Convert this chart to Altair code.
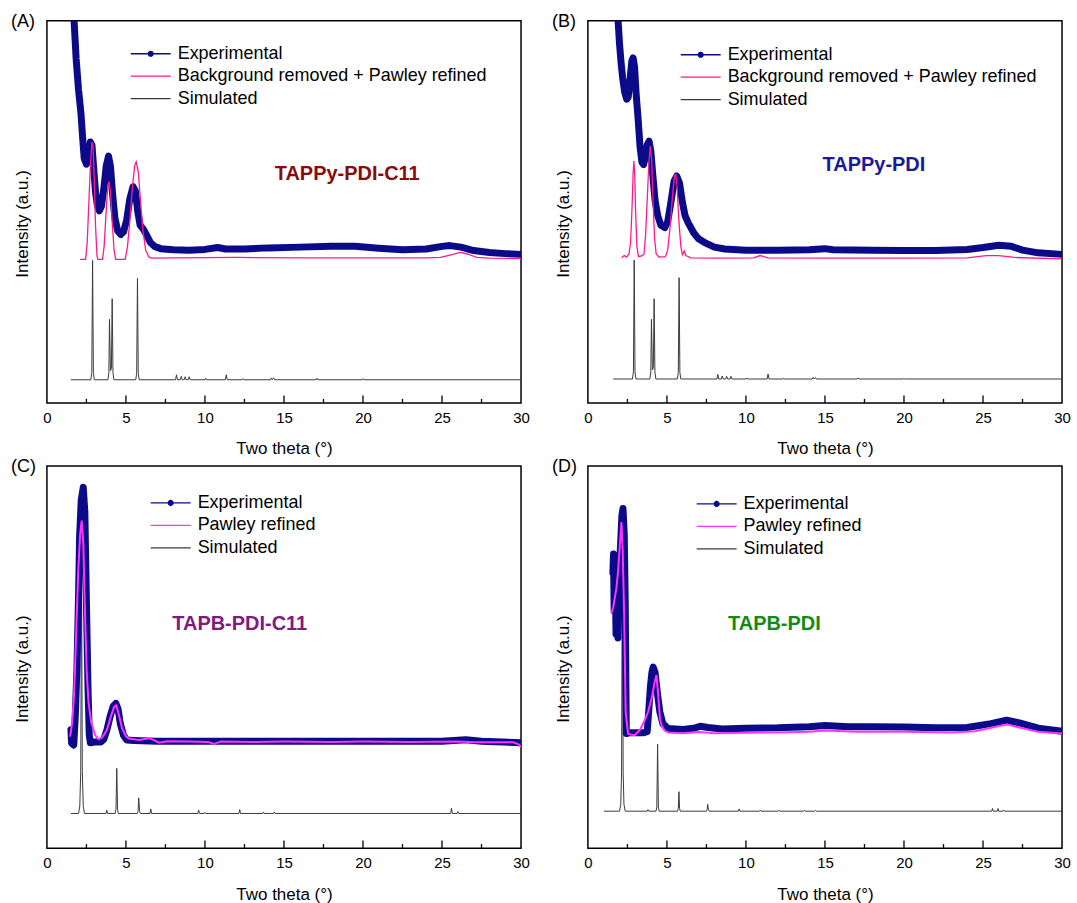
import altair as alt
import pandas as pd

# ---------------- Panel A : TAPPy-PDI-C11 ----------------
a_exp_x = [1.62, 1.72, 1.85, 2.0, 2.15, 2.25, 2.36, 2.5, 2.62, 2.75, 2.85, 2.95, 3.08, 3.2, 3.32, 3.45, 3.6, 3.75, 3.9, 4.02, 4.15, 4.3, 4.48, 4.67, 4.85, 5.05, 5.25, 5.45, 5.6, 5.75, 5.9, 6.1, 6.3, 6.55, 6.8, 7.2, 8.0, 9.0, 10.0, 10.8, 11.3, 12.5, 14.0, 16.0, 18.0, 19.5, 21.0, 22.5, 24.0, 25.0, 25.5, 26.2, 27.0, 28.0, 29.0, 30.0]
a_exp_y = [112, 100, 90, 82, 76, 70, 64, 62.5, 64.5, 68.3, 67.5, 62, 55, 51.5, 50.3, 51.5, 56, 62, 64.6, 62, 55, 48.5, 45, 44.1, 44.8, 48, 53.5, 56.6, 55.5, 50, 46.5, 45.5, 44, 42, 41, 40.4, 40.1, 40.0, 40.2, 40.7, 40.3, 40.3, 40.6, 40.8, 41.0, 41.0, 40.5, 40.1, 40.3, 41.0, 41.2, 40.8, 39.9, 39.4, 39.1, 38.9]
a_ref_x = [2.1, 2.45, 2.55, 2.65, 2.75, 2.85, 2.92, 3.0, 3.08, 3.17, 3.22, 3.52, 3.62, 3.72, 3.82, 3.92, 4.02, 4.12, 4.25, 4.35, 4.95, 5.1, 5.25, 5.4, 5.55, 5.65, 5.78, 5.92, 6.08, 6.25, 6.45, 6.6, 8.0, 12.0, 16.0, 20.0, 24.0, 24.9, 25.5, 26.15, 26.6, 27.2, 28.0, 30.0]
a_ref_y = [37.6, 37.6, 42, 52, 62, 68.3, 67, 58, 46, 38.5, 37.6, 37.6, 41, 48, 55, 58, 55.5, 48, 40, 37.6, 37.6, 41, 48, 56, 62, 63.1, 60.5, 53, 45, 40, 38.2, 37.9, 38.0, 38.1, 38.0, 38.0, 38.0, 38.1, 38.7, 39.4, 39.0, 38.1, 37.9, 37.8]
a_sim_x = [1.52, 2.78, 2.84, 2.89, 2.94, 3.0, 3.86, 3.92, 3.96, 4.02, 4.08, 4.13, 4.18, 4.24, 5.62, 5.68, 5.73, 5.78, 5.84, 8.14, 8.2, 8.26, 8.44, 8.5, 8.56, 8.69, 8.75, 8.81, 8.94, 9.0, 9.06, 10.0, 10.05, 10.1, 11.29, 11.35, 11.41, 12.35, 12.4, 12.45, 14.15, 14.2, 14.27, 14.35, 14.41, 17.05, 17.1, 17.15, 19.95, 20.0, 20.05, 30.0]
a_sim_y = [6.1, 6.1, 8.0, 37.3, 8.0, 6.1, 6.1, 8.0, 21.9, 8.5, 9.0, 27.3, 8.0, 6.1, 6.1, 7.8, 32.6, 7.8, 6.1, 6.1, 7.4, 6.1, 6.1, 7.0, 6.1, 6.1, 6.9, 6.1, 6.1, 6.9, 6.1, 6.1, 6.5, 6.1, 6.1, 7.4, 6.1, 6.1, 6.4, 6.1, 6.1, 6.6, 6.1, 6.6, 6.1, 6.1, 6.5, 6.1, 6.1, 6.4, 6.1, 6.1]

# ---------------- Panel B : TAPPy-PDI ----------------
b_exp_x = [1.82, 1.91, 2.0, 2.1, 2.2, 2.32, 2.45, 2.55, 2.65, 2.78, 2.86, 2.95, 3.05, 3.18, 3.3, 3.42, 3.52, 3.62, 3.75, 3.87, 3.98, 4.1, 4.25, 4.42, 4.62, 4.86, 5.05, 5.25, 5.45, 5.62, 5.8, 5.98, 6.15, 6.34, 6.7, 7.0, 7.39, 8.0, 8.65, 10.0, 12.0, 14.0, 15.0, 15.5, 18.0, 20.0, 22.0, 24.0, 25.0, 26.0, 26.8, 27.5, 28.5, 30.0]
b_exp_y = [112, 100, 94, 89, 85, 81.5, 79.5, 80, 84, 89.5, 90.3, 88, 81, 74.2, 67, 63, 62.4, 64, 67.5, 68.5, 66, 60, 53, 49, 46.5, 45.9, 47.5, 52.5, 58, 59.4, 57.5, 52.5, 49, 47.2, 44.5, 43, 42.0, 40.8, 40.3, 40.0, 40.0, 40.1, 40.4, 40.1, 40.0, 39.9, 39.9, 40.2, 40.7, 41.3, 41.0, 40.0, 39.3, 38.9]
b_ref_x = [2.13, 2.3, 2.45, 2.6, 2.7, 2.8, 2.86, 2.91, 2.96, 3.02, 3.1, 3.2, 3.4, 3.55, 3.65, 3.75, 3.85, 3.94, 4.03, 4.12, 4.22, 4.32, 4.5, 4.9, 5.05, 5.2, 5.35, 5.48, 5.56, 5.65, 5.75, 5.88, 5.98, 6.1, 6.2, 6.5, 8.0, 10.5, 10.9, 11.4, 15.0, 20.0, 24.0, 25.2, 26.0, 27.0, 30.0]
b_ref_y = [38.0, 38.6, 38.2, 39, 42, 52, 60, 63.3, 60, 50, 41, 38.3, 38.5, 39, 44, 53, 62, 67.2, 64, 53, 43, 39, 38.2, 38.3, 40, 46, 54, 59.5, 59.8, 56, 48, 41, 38.8, 39.8, 38.6, 38.0, 37.9, 38.0, 38.6, 38.0, 37.9, 37.9, 38.0, 38.6, 38.6, 38.1, 37.7]
b_sim_x = [1.6, 2.82, 2.88, 2.93, 2.98, 3.04, 3.92, 3.98, 4.02, 4.08, 4.14, 4.19, 4.24, 4.3, 5.66, 5.72, 5.77, 5.82, 5.88, 8.16, 8.22, 8.28, 8.44, 8.5, 8.56, 8.72, 8.78, 8.84, 8.99, 9.05, 9.11, 10.0, 10.05, 10.1, 11.34, 11.4, 11.46, 12.35, 12.4, 12.45, 14.2, 14.25, 14.32, 14.4, 14.46, 17.05, 17.1, 17.15, 19.95, 20.0, 20.05, 30.0]
b_sim_y = [6.3, 6.3, 8.2, 37.4, 8.2, 6.3, 6.3, 8.2, 21.9, 8.7, 9.2, 27.3, 8.2, 6.3, 6.3, 8.0, 32.8, 8.0, 6.3, 6.3, 7.5, 6.3, 6.3, 7.1, 6.3, 6.3, 7.0, 6.3, 6.3, 7.0, 6.3, 6.3, 6.6, 6.3, 6.3, 7.6, 6.3, 6.3, 6.5, 6.3, 6.3, 6.7, 6.3, 6.7, 6.3, 6.3, 6.6, 6.3, 6.3, 6.5, 6.3, 6.3]

# ---------------- Panel C : TAPB-PDI-C11 ----------------
c_exp_x = [1.52, 1.56, 1.7, 1.8, 1.9, 2.0, 2.07, 2.17, 2.3, 2.4, 2.5, 2.6, 2.68, 2.75, 3.0, 3.4, 3.6, 3.8, 4.0, 4.2, 4.36, 4.5, 4.65, 4.85, 5.05, 5.5, 7.0, 10.0, 15.0, 20.0, 25.0, 26.5, 27.5, 30.0]
c_exp_y = [31, 27.5, 27, 35, 47, 66, 81.8, 91, 94.4, 88, 64.4, 42, 29.6, 27.6, 27.8, 27.8, 28.5, 31, 34.5, 37.2, 37.9, 36.5, 32.5, 29.5, 28.3, 28.2, 28.0, 28.0, 28.0, 28.0, 28.0, 28.4, 28.0, 27.6]
c_ref_x = [1.47, 1.6, 1.7, 1.78, 1.88, 1.99, 2.1, 2.2, 2.3, 2.42, 2.52, 2.63, 2.8, 3.05, 3.26, 3.5, 3.8, 4.05, 4.25, 4.39, 4.55, 4.75, 5.0, 5.2, 5.8, 6.5, 6.8, 7.1, 7.6, 9.0, 10.2, 10.6, 11.0, 13.0, 15.0, 18.0, 20.0, 23.0, 26.0, 27.0, 29.5, 29.85, 30.0]
c_ref_y = [29.2, 33, 39, 47, 60, 73.1, 82, 85.7, 80, 60, 46, 38.3, 33, 29.6, 28.5, 29, 31, 34.5, 37, 37.4, 35, 31.5, 29.3, 28.7, 28.3, 28.8, 28.2, 27.6, 28.0, 27.9, 27.8, 27.3, 27.9, 27.8, 27.9, 27.8, 27.9, 27.8, 27.9, 27.7, 27.7, 27.2, 26.5]
c_sim_x = [1.52, 2.0, 2.08, 2.14, 2.19, 2.24, 2.3, 2.38, 3.74, 3.79, 3.84, 4.32, 4.37, 4.42, 4.47, 4.52, 5.72, 5.77, 5.81, 5.86, 5.91, 6.52, 6.57, 6.62, 9.55, 9.6, 9.65, 9.95, 10.0, 10.05, 12.15, 12.2, 12.25, 13.65, 13.7, 13.75, 14.35, 14.4, 14.45, 25.55, 25.6, 25.65, 25.95, 26.0, 26.05, 30.0]
c_sim_y = [9.1, 9.1, 11.0, 20.0, 75.0, 20.0, 11.0, 9.1, 9.1, 9.9, 9.1, 9.1, 10.2, 20.9, 10.2, 9.1, 9.1, 9.8, 13.2, 9.8, 9.1, 9.1, 10.3, 9.1, 9.1, 10.0, 9.1, 9.1, 9.4, 9.1, 9.1, 10.1, 9.1, 9.1, 9.5, 9.1, 9.1, 9.5, 9.1, 9.1, 10.5, 9.1, 9.1, 9.6, 9.1, 9.1]

# ---------------- Panel D : TAPB-PDI ----------------
d_exp_x = [1.58, 1.62, 1.66, 1.72, 1.78, 1.84, 1.9, 1.96, 2.05, 2.15, 2.22, 2.3, 2.36, 2.4, 2.43, 2.6, 3.0, 3.5, 3.75, 3.85, 3.95, 4.05, 4.13, 4.25, 4.4, 4.55, 4.75, 5.09, 6.0, 6.7, 7.1, 7.6, 8.5, 10.0, 12.0, 14.0, 15.0, 16.5, 18.0, 20.0, 22.0, 24.0, 25.5, 26.5, 27.3, 28.5, 30.0]
d_exp_y = [72, 77, 62, 74, 56, 70, 55, 66, 78, 87, 88.9, 82, 65, 45, 30, 30.2, 30.2, 30.2, 30.5, 36, 42, 46, 47.4, 46, 40.5, 35.7, 32.5, 31.3, 31.1, 31.4, 31.9, 31.6, 31.2, 31.4, 31.5, 31.8, 32.1, 31.8, 31.8, 31.7, 31.5, 31.6, 32.6, 33.5, 32.8, 31.4, 30.6]
d_ref_x = [1.48, 1.6, 1.7, 1.8, 1.9, 2.0, 2.12, 2.2, 2.29, 2.39, 2.54, 2.75, 2.97, 3.3, 3.6, 3.81, 4.05, 4.2, 4.34, 4.45, 4.56, 4.66, 4.85, 5.09, 6.0, 7.0, 8.0, 10.0, 12.0, 14.0, 15.0, 17.0, 20.0, 23.0, 24.5, 25.5, 26.5, 27.5, 28.5, 30.0]
d_ref_y = [61.4, 63, 65.5, 67.9, 72, 78, 85.3, 78, 61.8, 35.6, 30, 29.7, 29.6, 31, 33.5, 35.7, 39.5, 43, 45.3, 40, 34, 32.2, 30.8, 30.3, 30.1, 30.4, 30.1, 30.2, 30.3, 30.5, 30.8, 30.5, 30.5, 30.3, 30.6, 31.5, 32.4, 31.4, 30.5, 30.0]
d_sim_x = [1.02, 2.0, 2.08, 2.13, 2.18, 2.23, 2.28, 2.36, 3.75, 3.8, 3.85, 4.31, 4.36, 4.41, 4.46, 4.51, 5.67, 5.72, 5.76, 5.8, 5.85, 7.5, 7.55, 7.58, 7.62, 7.67, 9.52, 9.57, 9.62, 10.85, 10.9, 10.95, 12.05, 12.1, 12.15, 13.65, 13.7, 13.75, 14.35, 14.4, 14.45, 25.55, 25.6, 25.65, 25.9, 25.95, 26.0, 26.25, 26.3, 26.35, 30.0]
d_sim_y = [9.7, 9.7, 11.5, 20.0, 82.0, 20.0, 11.5, 9.7, 9.7, 10.1, 9.7, 9.7, 10.8, 27.2, 10.8, 9.7, 9.7, 10.4, 14.8, 10.4, 9.7, 9.7, 10.2, 11.5, 10.2, 9.7, 9.7, 10.3, 9.7, 9.7, 9.95, 9.7, 9.7, 9.95, 9.7, 9.7, 9.95, 9.7, 9.7, 9.9, 9.7, 9.7, 10.4, 9.7, 9.7, 10.4, 9.7, 9.7, 10.0, 9.7, 9.7]

# ---------------- labels / ticks ----------------
x_tick_labels = [0, 5, 10, 15, 20, 25, 30]
major_ticks = [5, 10, 15, 20, 25]
minor_ticks = [2.5, 7.5, 12.5, 17.5, 22.5, 27.5]
series_exp = "Experimental"
series_sim = "Simulated"

FONT = "Liberation Sans"
NAVY = "#0b0b8a"
PINK = "#ff1a8c"
MAGENTA = "#ff33ff"
SIMCOL = "#3a3a3a"
LINE_DOT = "M-1,0H1M-0.12,0A0.12,0.12,0,1,0,0.12,0A0.12,0.12,0,1,0,-0.12,0Z"


def panel(tag, ex, ey, rx, ry, sx, sy, ref_name, ref_color, ref_width,
          name, name_x, name_y, name_color, width, height, leg_x, leg_y):
    common = dict(orient="none", legendX=leg_x, title=None, direction="vertical",
                  symbolSize=1600, symbolStrokeWidth=1.3, labelFontSize=18,
                  labelFont=FONT, labelColor="black", clipHeight=18, rowPadding=4.5,
                  padding=0, labelOffset=6, labelLimit=600)
    exp_legend = alt.Legend(legendY=leg_y, symbolType=LINE_DOT, symbolFillColor=NAVY,
                            **common)
    oth_legend = alt.Legend(legendY=leg_y + 22.5, symbolType="stroke", **common)

    stroke_exp = alt.Stroke("series:N", scale=alt.Scale(domain=[series_exp], range=[NAVY]),
                            legend=exp_legend)
    color_oth = alt.Color("series:N", scale=alt.Scale(domain=[ref_name, series_sim],
                                                      range=[ref_color, SIMCOL]),
                          legend=oth_legend)
    xenc = alt.X("x:Q", scale=alt.Scale(domain=[0, 30], nice=False),
                 axis=alt.Axis(title="Two theta (°)", values=x_tick_labels, format="d",
                               ticks=False, domain=False, grid=False, labelFlush=False,
                               labelFontSize=15, labelPadding=7, titleFontSize=17,
                               titleFontWeight="normal", titlePadding=16,
                               labelFont=FONT, titleFont=FONT,
                               labelColor="black", titleColor="black"))
    yenc = alt.Y("y:Q", scale=alt.Scale(domain=[0, 100], nice=False),
                 axis=alt.Axis(title="Intensity (a.u.)", labels=False, ticks=False,
                               domain=False, grid=False, titleFontSize=17,
                               titleFontWeight="normal", titlePadding=15, titleY=203,
                               titleFont=FONT, titleColor="black"))

    sim_df = pd.DataFrame({"x": sx, "y": sy, "series": series_sim})
    exp_df = pd.DataFrame({"x": ex, "y": ey, "series": series_exp})
    ref_df = pd.DataFrame({"x": rx, "y": ry, "series": ref_name})

    sim = alt.Chart(sim_df).mark_line(clip=True).encode(
        xenc, yenc, color_oth, strokeWidth=alt.value(1))
    exp = alt.Chart(exp_df).mark_line(strokeJoin="round", strokeCap="round", clip=True).encode(
        xenc, yenc, stroke_exp, strokeWidth=alt.value(7))
    ref = alt.Chart(ref_df).mark_line(clip=True).encode(
        xenc, yenc, color_oth, strokeWidth=alt.value(ref_width))

    maj = alt.Chart(pd.DataFrame({"x": major_ticks})).mark_rule(
        color="black", strokeWidth=1.3).encode(x="x:Q", y=alt.datum(0), y2=alt.datum(2.0))
    mnr = alt.Chart(pd.DataFrame({"x": minor_ticks})).mark_rule(
        color="black", strokeWidth=1.3).encode(x="x:Q", y=alt.datum(0), y2=alt.datum(1.1))

    lab = alt.Chart(pd.DataFrame({"x": [name_x], "y": [name_y], "t": [name]})).mark_text(
        font=FONT, fontSize=20, fontWeight="bold", color=name_color,
        align="center", baseline="middle").encode(x="x:Q", y="y:Q", text="t:N")

    return alt.layer(sim, exp, ref, maj, mnr, lab).properties(
        width=width, height=height,
        title=alt.TitleParams(text=tag, anchor="start", frame="group", dx=-36, dy=24,
                              offset=0, baseline="alphabetic", fontSize=18,
                              fontWeight="normal", font=FONT, color="black"))


pA = panel("(A)", a_exp_x, a_exp_y, a_ref_x, a_ref_y, a_sim_x, a_sim_y,
           "Background removed + Pawley refined", PINK, 1.3,
           "TAPPy-PDI-C11", 19.0, 60.0, "#8b0a0a", 475, 383, 83, 24)
pB = panel("(B)", b_exp_x, b_exp_y, b_ref_x, b_ref_y, b_sim_x, b_sim_y,
           "Background removed + Pawley refined", PINK, 1.3,
           "TAPPy-PDI", 18.1, 62.2, "#1a1a96", 475, 383, 92, 25)
pC = panel("(C)", c_exp_x, c_exp_y, c_ref_x, c_ref_y, c_sim_x, c_sim_y,
           "Pawley refined", MAGENTA, 2,
           "TAPB-PDI-C11", 12.2, 58.7, "#7f1a7f", 475, 383, 103, 28)
pD = panel("(D)", d_exp_x, d_exp_y, d_ref_x, d_ref_y, d_sim_x, d_sim_y,
           "Pawley refined", MAGENTA, 2,
           "TAPB-PDI", 11.8, 58.7, "#138a13", 475, 383, 108, 29)

chart = alt.concat(pA, pB, pC, pD, columns=2, spacing={"row": 63, "column": 67},
                   bounds="flush").resolve_scale(
    color="independent", stroke="independent", x="independent", y="independent"
).resolve_legend(color="independent", stroke="independent").properties(
    padding={"left": 10, "top": 11, "right": 5, "bottom": 2}
).configure(font=FONT).configure_view(stroke="black", strokeWidth=1.5)

chart.save("out.html", embed_options={"renderer": "svg", "actions": False})
